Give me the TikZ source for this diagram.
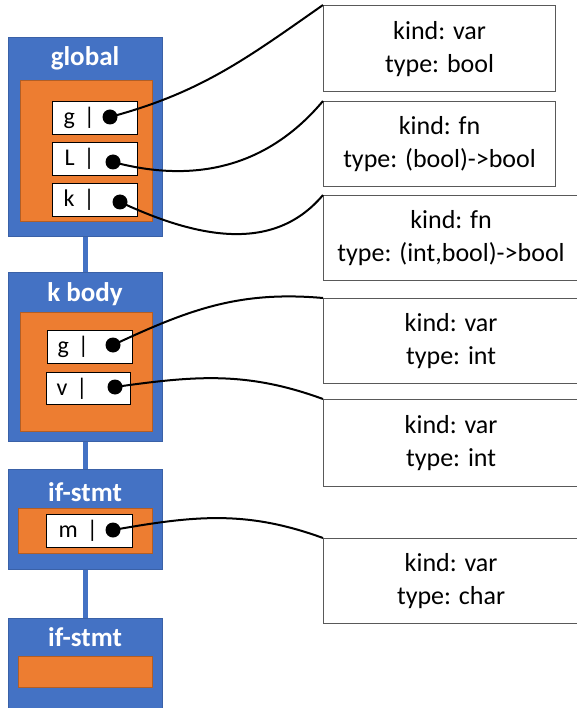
\documentclass[tikz,border=0pt]{standalone}
\usepackage{fontspec}
\setmainfont{Carlito}

\definecolor{scopeblue}{HTML}{4472C4}
\definecolor{scopeorange}{HTML}{ED7D31}
\definecolor{boxgray}{HTML}{595959}

\newcommand{\entry}[1]{#1\hspace{9pt}|}

\tikzset{
  scopebox/.style={draw=scopeblue!85!black, fill=scopeblue, line width=0.8pt,
    anchor=north west, minimum width=154pt, inner sep=0pt},
  tablebox/.style={draw=scopeorange!75!black, fill=scopeorange, line width=0.8pt,
    anchor=north west, inner sep=0pt},
  scopetitle/.style={text=white, font=\fontsize{27}{30}\selectfont\bfseries},
  varbox/.style={draw=black, fill=white, line width=1.2pt, anchor=north west,
    minimum height=33pt, inner xsep=11pt, inner ysep=0pt, align=left,
    font=\fontsize{24}{26}\selectfont},
  dot/.style={circle, fill=black, minimum size=15pt, inner sep=0pt},
  infobox/.style={draw=boxgray, fill=white, line width=1.2pt, anchor=north west,
    align=center, inner sep=0pt, font=\fontsize{26}{33}\selectfont},
  stem/.style={scopeblue, line width=5pt},
  link/.style={black, line width=2pt}
}

\begin{document}
\begin{tikzpicture}[x=1pt, y=1pt]
    \useasboundingbox (0,0) rectangle (576,-708);
    % scopes
    \node[scopebox, minimum height=199pt] (global) at (8,-37) {};
    \node[scopebox, minimum height=169pt] (kbody) at (8,-272) {};
    \node[scopebox, minimum height=100pt] (ifone) at (8,-469) {};
    \node[scopebox, minimum height=93pt] (iftwo) at (8,-618) {};

    \draw[stem] (global.south) -- (kbody.north);
    \draw[stem] (kbody.south) -- (ifone.north);
    \draw[stem] (ifone.south) -- (iftwo.north);

    \node[scopetitle] (globaltitle) at (85,-58) {global};
    \node[scopetitle] (kbodytitle) at (85,-294) {k body};
    \node[scopetitle] (ifonetitle) at (85,-492) {if-stmt};
    \node[scopetitle] (iftwotitle) at (85,-637) {if-stmt};

    % symbol tables
    \node[tablebox, minimum width=132pt, minimum height=141pt] (globaltab) at (20,-80) {};
    \node[tablebox, minimum width=132pt, minimum height=119pt] (kbodytab) at (20,-312) {};
    \node[tablebox, minimum width=134pt, minimum height=45pt] (ifonetab) at (18,-508) {};
    \node[tablebox, minimum width=134pt, minimum height=31pt] (iftwotab) at (18,-656) {};

    % entries
    \node[varbox, text width=63pt] (gvar) at (52,-101) {\entry{g}};
    \node[varbox, text width=61pt, inner xsep=12pt] (lvar) at (52,-142) {\entry{L}};
    \node[varbox, text width=63pt] (kvar) at (52,-183) {\entry{k}};
    \node[varbox, text width=65pt, inner xsep=10pt] (gbvar) at (47,-330) {\entry{g}};
    \node[varbox, text width=64pt, inner xsep=10pt, minimum height=32pt] (vvar) at (46,-372) {\entry{v}};
    \node[varbox, text width=62pt, inner xsep=12pt] (mvar) at (46,-514) {\entry{m}};

    \node[dot] (gdot) at (110,-117) {};
    \node[dot] (ldot) at (113,-162) {};
    \node[dot] (kdot) at (120,-202) {};
    \node[dot] (gbdot) at (113,-345) {};
    \node[dot] (vdot) at (115,-387) {};
    \node[dot] (mdot) at (113,-530) {};

    % symbol info
    \node[infobox, minimum width=232pt, minimum height=86pt] (ginfo) at (323,-5) {kind: var\\type: bool};
    \node[infobox, minimum width=232pt, minimum height=85pt] (linfo) at (323,-101) {kind: fn\\type: (bool)->bool};
    \node[infobox, minimum width=255pt, minimum height=85pt] (kinfo) at (323,-195) {kind: fn\\type: (int,bool)->bool};
    \node[infobox, minimum width=255pt, minimum height=85pt] (gbinfo) at (323,-298) {kind: var\\type: int};
    \node[infobox, minimum width=255pt, minimum height=87pt] (vinfo) at (323,-399) {kind: var\\type: int};
    \node[infobox, minimum width=255pt, minimum height=85pt] (minfo) at (323,-538) {kind: var\\type: char};

    % links
    \draw[link] (gdot.center) to[out=15, in=215] (ginfo.north west);
    \draw[link] (ldot.center) to[out=-15, in=230] (linfo.north west);
    \draw[link] (kdot.center) to[out=-25, in=230] (kinfo.north west);
    \draw[link] (gbdot.center) to[out=25, in=175] (gbinfo.north west);
    \draw[link] (vdot.center) to[out=8, in=160] (vinfo.north west);
    \draw[link] (mdot.center) to[out=10, in=160] (minfo.north west);
\end{tikzpicture}
\end{document}
